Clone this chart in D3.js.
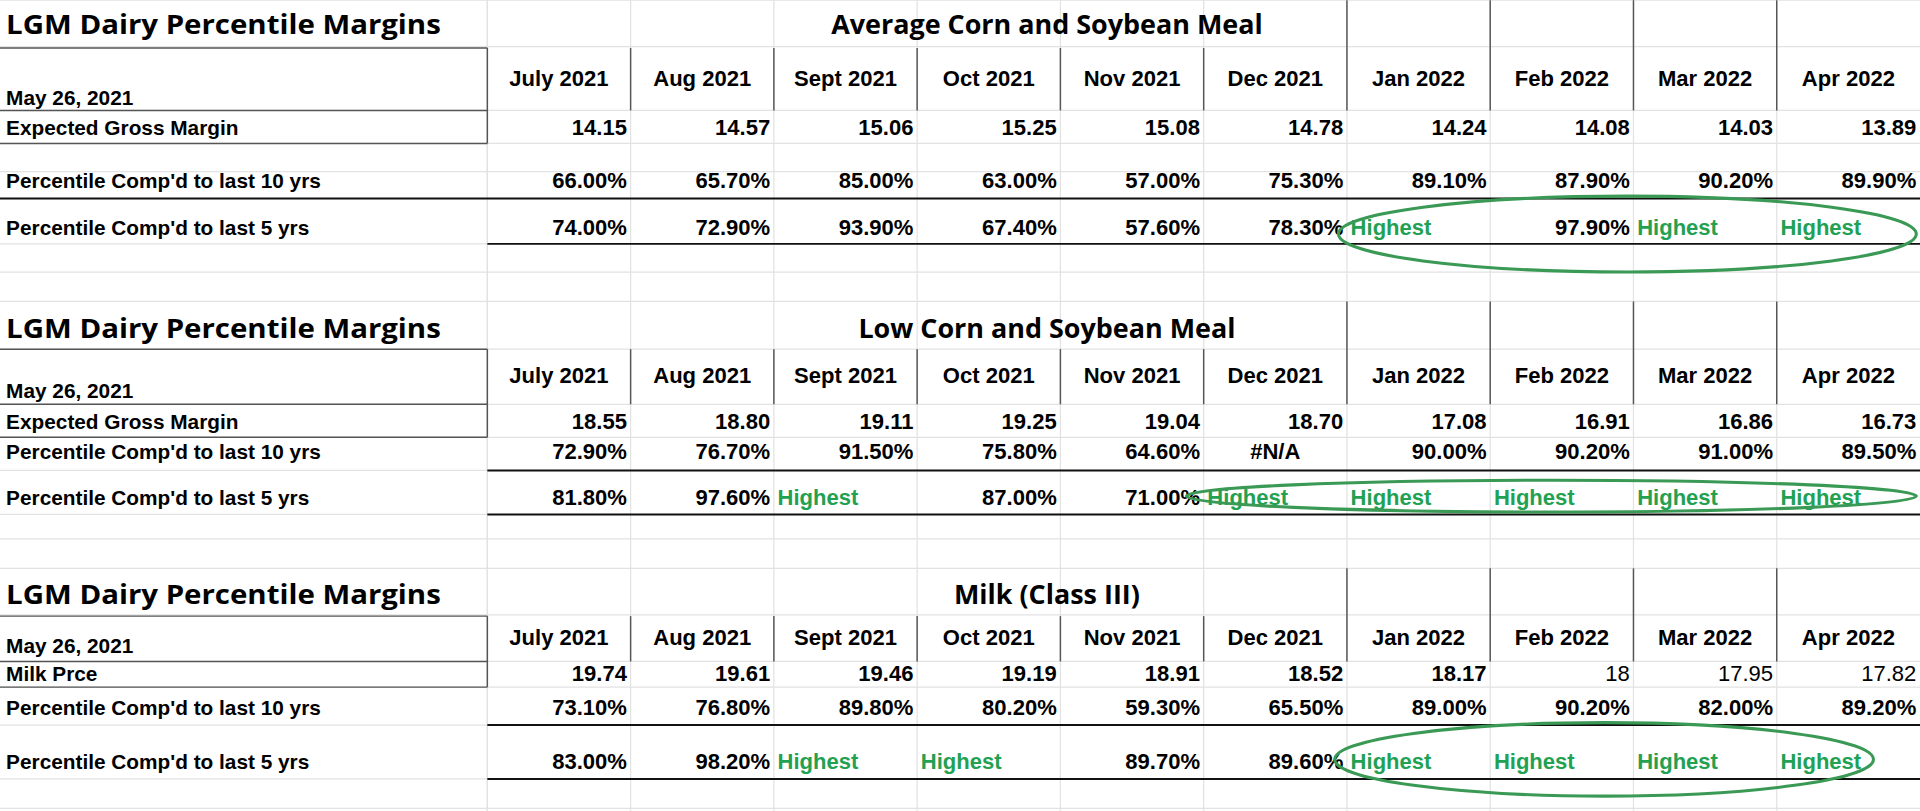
<!DOCTYPE html>
<html><head><meta charset="utf-8">
<script src="https://cdn.jsdelivr.net/npm/d3@7"></script>
<style>body{margin:0;background:#fff;overflow:hidden}</style>
</head><body>
<div id="sheet"></div>
<script>
// data
var months = ["July 2021","Aug 2021","Sept 2021","Oct 2021","Nov 2021","Dec 2021","Jan 2022","Feb 2022","Mar 2022","Apr 2022"];
var asOf = "May 26, 2021";
var sheetTitle = "LGM Dairy Percentile  Margins";
var sectionTitles = ["Average Corn and Soybean Meal","Low Corn and Soybean Meal","Milk (Class III)"];
var rowLabels = [
  ["Expected Gross Margin","Percentile Comp'd to last 10 yrs","Percentile Comp'd to last 5 yrs"],
  ["Expected Gross Margin","Percentile Comp'd to last 10 yrs","Percentile Comp'd to last 5 yrs"],
  ["Milk Prce","Percentile Comp'd to last 10 yrs","Percentile Comp'd to last 5 yrs"]
];
var avgMargin = ["14.15","14.57","15.06","15.25","15.08","14.78","14.24","14.08","14.03","13.89"];
var avg10 = ["66.00%","65.70%","85.00%","63.00%","57.00%","75.30%","89.10%","87.90%","90.20%","89.90%"];
var avg5 = ["74.00%","72.90%","93.90%","67.40%","57.60%","78.30%","Highest","97.90%","Highest","Highest"];
var lowMargin = ["18.55","18.80","19.11","19.25","19.04","18.70","17.08","16.91","16.86","16.73"];
var low10 = ["72.90%","76.70%","91.50%","75.80%","64.60%","#N/A","90.00%","90.20%","91.00%","89.50%"];
var low5 = ["81.80%","97.60%","Highest","87.00%","71.00%","Highest","Highest","Highest","Highest","Highest"];
var milkPrice = ["19.74","19.61","19.46","19.19","18.91","18.52","18.17","18","17.95","17.82"];
var milk10 = ["73.10%","76.80%","89.80%","80.20%","59.30%","65.50%","89.00%","90.20%","82.00%","89.20%"];
var milk5 = ["83.00%","98.20%","Highest","Highest","89.70%","89.60%","Highest","Highest","Highest","Highest"];
var sections = [[avgMargin,avg10,avg5],[lowMargin,low10,low5],[milkPrice,milk10,milk5]];
var plainCells = {2:[7,8,9]}; // non-bold values in milk price row

// layout (view units 1568 x 662)
var W = 1568, H = 662;
var tops = [0, 246, 464];
var rowY = [[28,70,86,110,153,192,162,199,117,90],
            [276,313,325,350,375,412,384,420,357,330],
            [493,527,533,556,584,628,592,636,561,540]];
var ellipses = [[1329,191,236,31],[1267,405,298,13],[1310,620,220,30]];
var labelW = 398;
var x = d3.scaleBand().domain(months).range([labelW, W]);

var svg = d3.select("#sheet").append("svg")
  .attr("width", 1920).attr("height", 811)
  .attr("viewBox", "0 0 " + W + " " + H);

// faint grid
var grid = svg.append("g").attr("stroke", "#e2e2e2").attr("stroke-width", 1);
[0,38,90,117,140,162,199,222,246,285,330,357,384,420,440,464,502,540,561,592,636,660].forEach(function(y){
  grid.append("line").attr("x1",0).attr("x2",W).attr("y1",y).attr("y2",y);
});
months.forEach(function(m){
  grid.append("line").attr("x1",x(m)).attr("x2",x(m)).attr("y1",0).attr("y2",H);
});
grid.append("line").attr("x1",labelW).attr("x2",labelW).attr("y1",0).attr("y2",H);

var font = "'Liberation Sans', Arial, sans-serif";

sections.forEach(function(rows, s){
  var ry = rowY[s], top = tops[s];
  var g = svg.append("g");
  g.append("text").attr("x",5).attr("y",ry[0]).text(sheetTitle)
    .attr("font-family","'Open Sans', sans-serif").attr("font-weight",700).attr("font-size",22)
    .attr("textLength",355).attr("lengthAdjust","spacingAndGlyphs");
  g.append("text").attr("x",855).attr("y",ry[0]).attr("text-anchor","middle").text(sectionTitles[s])
    .attr("font-family","'Open Sans', sans-serif").attr("font-weight",700).attr("font-size",22);

  var boxTop = top + 39, headBot = ry[9], rowBot = ry[8];
  // label box
  var b = g.append("g").attr("stroke","#555").attr("stroke-width",1.2);
  b.append("line").attr("x1",0).attr("x2",labelW).attr("y1",boxTop).attr("y2",boxTop);
  b.append("line").attr("x1",0).attr("x2",labelW).attr("y1",headBot).attr("y2",headBot);
  b.append("line").attr("x1",0).attr("x2",labelW).attr("y1",rowBot).attr("y2",rowBot);
  b.append("line").attr("x1",labelW).attr("x2",labelW).attr("y1",boxTop).attr("y2",rowBot);
  // header column separators
  months.slice(1).forEach(function(m, i){
    var y0 = i >= 5 ? top : boxTop;
    b.append("line").attr("x1",x(m)).attr("x2",x(m)).attr("y1",y0).attr("y2",headBot);
  });
  // heavy rules
  g.append("line").attr("x1",s === 0 ? 0 : labelW).attr("x2",W).attr("y1",ry[6]).attr("y2",ry[6])
    .attr("stroke","#111").attr("stroke-width",1.6);
  g.append("line").attr("x1",labelW).attr("x2",W).attr("y1",ry[7]).attr("y2",ry[7])
    .attr("stroke","#111").attr("stroke-width",1.6);

  g.append("text").attr("x",5).attr("y",ry[2]).text(asOf)
    .attr("font-family",font).attr("font-weight",700).attr("font-size",17);
  g.selectAll(".mh").data(months).join("text")
    .attr("x", function(d){ return x(d) + x.bandwidth()/2; }).attr("y", ry[1])
    .attr("text-anchor","middle").text(function(d){ return d; })
    .attr("font-family",font).attr("font-weight",700).attr("font-size",18);

  rows.forEach(function(vals, r){
    var y = ry[3 + r];
    g.append("text").attr("x",5).attr("y",y).text(rowLabels[s][r])
      .attr("font-family",font).attr("font-weight",700).attr("font-size",17);
    g.selectAll(".v" + r).data(vals).join("text")
      .attr("y", y)
      .attr("x", function(d, i){
        if (d === "Highest") return x(months[i]) + 3;
        if (d === "#N/A") return x(months[i]) + x.bandwidth()/2;
        return x(months[i]) + x.bandwidth() - 3;
      })
      .attr("text-anchor", function(d){ return d === "Highest" ? "start" : d === "#N/A" ? "middle" : "end"; })
      .attr("fill", function(d){ return d === "Highest" ? "#22a152" : "#000"; })
      .attr("font-weight", function(d, i){ return (r === 0 && plainCells[s] && plainCells[s].indexOf(i) >= 0) ? 400 : 700; })
      .attr("font-family",font).attr("font-size",18)
      .text(function(d){ return d; });
  });

  var e = ellipses[s];
  g.append("ellipse").attr("cx",e[0]).attr("cy",e[1]).attr("rx",e[2]).attr("ry",e[3])
    .attr("fill","none").attr("stroke","#3a9a55").attr("stroke-width",2.5);
});
</script>
</body></html>
